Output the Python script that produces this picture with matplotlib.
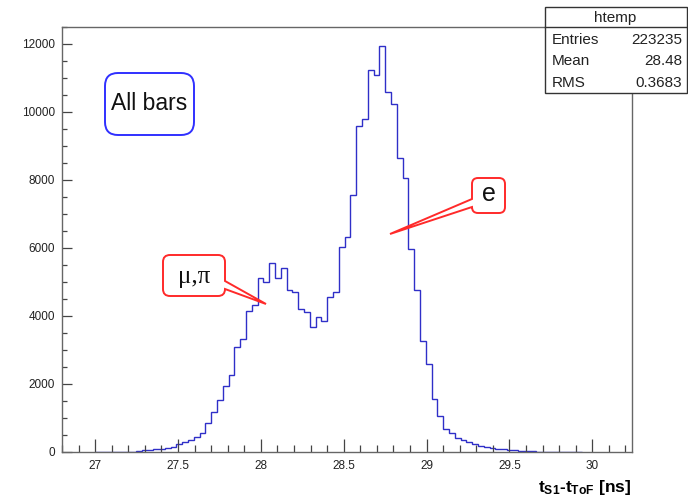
import numpy as np
import matplotlib
matplotlib.use("Agg")
import matplotlib.pyplot as plt
from matplotlib.path import Path
from matplotlib.patches import PathPatch, Rectangle
from matplotlib.ticker import MultipleLocator, FuncFormatter

plt.rcParams["font.family"] = ["Liberation Sans", "DejaVu Sans"]
plt.rcParams["mathtext.fontset"] = "custom"
plt.rcParams["mathtext.rm"] = "Liberation Sans"
plt.rcParams["mathtext.bf"] = "Liberation Sans:bold"
plt.rcParams["mathtext.it"] = "Liberation Sans:italic"

# t_S1 - t_ToF histogram, 0.035 ns bins starting at 27.0 ns
bin_lo = 27.0
bin_width = 0.035
counts = [
    3, 4, 5, 6, 8, 10, 14, 20, 60, 72,
    82, 92, 108, 145, 235, 304, 353, 451, 569, 863,
    1186, 1529, 1951, 2265, 3079, 3314, 4156, 4324, 5108, 5010,
    5568, 5108, 5402, 4765, 4715, 4206, 4127, 3667, 3980, 3850,
    4560, 4715, 6030, 6330, 7560, 9600, 9780, 11250, 11100, 11950,
    10580, 10235, 8660, 8070, 5960, 4765, 3275, 2580, 1560, 1060,
    670, 550, 410, 343, 284, 225, 176, 135, 118, 100,
    85, 62, 45, 32, 24, 18, 14, 10, 8, 12,
    6, 5, 4, 3,
]
stat_names = ["Entries", "Mean", "RMS"]
stat_values = ["223235", "28.48", "0.3683"]

W, H = 688, 499
fig = plt.figure(figsize=(W / 100, H / 100), dpi=100)
ax = fig.add_axes([62 / W, 1 - 452 / H, (632 - 62) / W, (452 - 27) / H])

edges = bin_lo + bin_width * np.arange(len(counts) + 1)
ax.stairs(counts, edges, color="#2f2fc8", lw=1.0, baseline=0)

ax.set_xlim(26.8, 30.24)
ax.set_ylim(0, 12500)
ax.xaxis.set_major_locator(MultipleLocator(0.5))
ax.xaxis.set_minor_locator(MultipleLocator(0.1))
ax.yaxis.set_major_locator(MultipleLocator(2000))
ax.yaxis.set_minor_locator(MultipleLocator(500))
ax.xaxis.set_major_formatter(FuncFormatter(lambda v, p: "%g" % v))
ax.yaxis.set_major_formatter(FuncFormatter(lambda v, p: "%d" % v))
ax.tick_params(which="both", direction="in", color="#444444", width=0.9,
               labelsize=8.5, labelcolor="#222222")
ax.tick_params(axis="x", which="major", length=9.5, pad=6)
ax.tick_params(axis="x", which="minor", length=5)
ax.tick_params(axis="y", which="major", length=7.5, pad=5)
ax.tick_params(axis="y", which="minor", length=3.5)
for s in ax.spines.values():
    s.set_color("#666666")
    s.set_linewidth(1.0)

ax.set_xlabel(r"$\mathbf{t}_{\mathbf{S1}}$-$\mathbf{t}_{\mathbf{ToF}}$ [ns]",
              loc="right", fontsize=12.5, fontweight="bold", labelpad=4)


def fxy(x, y):
    return (x / W, 1 - y / H)


def callout(x0, y0, x1, y1, r, ec, side=None, b0=None, b1=None, tip=None, lw=1.4):
    pts = [(x0 + r, y0), (x1 - r, y0), (x1, y0), (x1, y0 + r)]
    codes = [Path.MOVETO, Path.LINETO, Path.CURVE3, Path.CURVE3]
    if side == "right":
        pts += [(x1, b0), tip, (x1, b1)]
        codes += [Path.LINETO] * 3
    pts += [(x1, y1 - r), (x1, y1), (x1 - r, y1), (x0 + r, y1), (x0, y1), (x0, y1 - r)]
    codes += [Path.LINETO, Path.CURVE3, Path.CURVE3, Path.LINETO, Path.CURVE3, Path.CURVE3]
    if side == "left":
        pts += [(x0, b1), tip, (x0, b0)]
        codes += [Path.LINETO] * 3
    pts += [(x0, y0 + r), (x0, y0), (x0 + r, y0), (x0 + r, y0)]
    codes += [Path.LINETO, Path.CURVE3, Path.CURVE3, Path.CLOSEPOLY]
    path = Path([fxy(*p) for p in pts], codes)
    fig.add_artist(PathPatch(path, transform=fig.transFigure, fc="white",
                             ec=ec, lw=lw, zorder=5))


# label boxes
callout(105, 73, 194, 135, 13, "#3030ff")
fig.text(*fxy(149.5, 104), "All bars", fontsize=16.5, ha="center", va="center",
         color="#111111", zorder=6)

callout(163, 255, 225, 296, 7, "#ff2a2a", side="right", b0=281, b1=289, tip=(266, 304))
fig.text(*fxy(194, 277), "μ,π", fontsize=18, ha="center", va="center",
         family=["Liberation Serif", "DejaVu Serif"], color="#111111", zorder=6)

callout(472, 178, 505, 213, 6, "#ff2a2a", side="left", b0=199, b1=207, tip=(390, 234))
fig.text(*fxy(488.5, 194), "e", fontsize=18, ha="center", va="center",
         color="#111111", zorder=6)

# statistics box
fig.add_artist(Rectangle(fxy(545, 93), (687 - 545) / W, (93 - 7) / H,
                         transform=fig.transFigure, fc="white", ec="#333333",
                         lw=1.0, zorder=5))
fig.add_artist(plt.Line2D([545 / W, 687 / W], [1 - 27.3 / H] * 2,
                          transform=fig.transFigure, color="#333333", lw=1.0, zorder=6))
fig.text(*fxy(615, 18), "htemp", fontsize=11, ha="center", va="center",
         color="#222222", zorder=7)
for i, (name, val) in enumerate(zip(stat_names, stat_values)):
    yy = 39.5 + 21.7 * i
    fig.text(*fxy(552, yy), name, fontsize=11, ha="left", va="center",
             color="#222222", zorder=7)
    fig.text(*fxy(682, yy), val, fontsize=11, ha="right", va="center",
             color="#222222", zorder=7)

fig.savefig("out.png", dpi=100)
